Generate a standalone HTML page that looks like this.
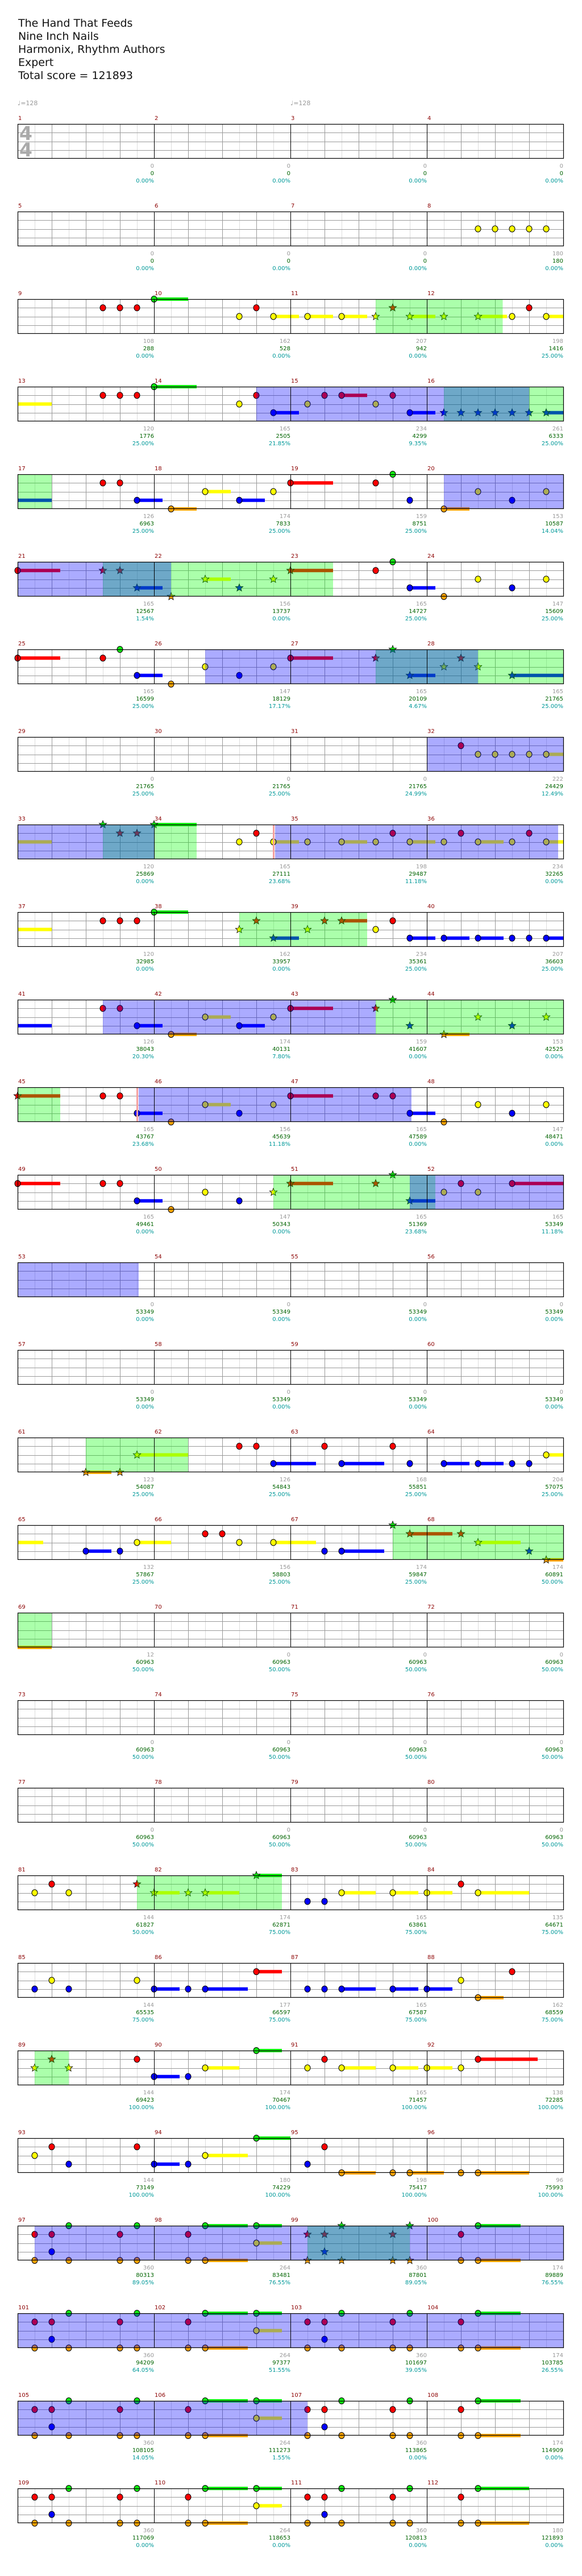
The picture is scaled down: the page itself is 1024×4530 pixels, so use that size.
<!DOCTYPE html>
<html><head><meta charset="utf-8">
<style>
html,body{margin:0;padding:0;background:#fff;width:1024px;height:4530px;overflow:hidden}
#hdr{position:absolute;left:32px;top:30px;font-family:"DejaVu Sans","Liberation Sans",sans-serif;font-size:19px;line-height:23px;color:#111}
svg{position:absolute;left:0;top:0}
</style></head><body>
<div id="hdr">The Hand That Feeds<br>Nine Inch Nails<br>Harmonix, Rhythm Authors<br>Expert<br>Total score = 121893</div>
<svg id="s" width="1024" height="4530" xmlns="http://www.w3.org/2000/svg" font-family="DejaVu Sans, Liberation Sans, sans-serif"></svg>
<script>
var P=function(E){return "r1 o1 r2 b2 g3 o3 r6 o6 g7 o7 r10 o10 g11-13.5 o11-13.5 g14-15.5 y14-15.5 r17 o17 r18 b18 g19 o19 r22 o22 g23 o23 r26 o26 g27-"+E+" o27-"+E;};
var P25="r1 o1 r2 b2 g3 o3 r6 o6 g7 o7 r10 o10 g11-13.5 o11-13.5 g14-15.5 y14-15.5 r17* o17* r18* b18* g19* o19* r22* o22* g23* o23* r26 o26 g27-29.5 o27-29.5";
var R=[
"",
"y27 y28 y29 y30 y31",
"r5 r6 r7 g8-10 y13 r14 y15-16.5 y17-18.5 y19-20.5 y21* r22* y23-24.5* y25* y27-28.7* y29 r30 y31-32 G21-28.45",
"_y0-2 r5 r6 r7 g8-10.5 y13 r14 b15-16.5 y17 r18 r19-20.5 y21 r22 b23-24.5 b25* b26* b27* b28* b29* b30* b31-32* B14-25 T25-30 G30-32",
"G0-2 _b0-2 r5 r6 b7-8.5 o9-10.5 y11-12.5 b13-14.5 y15 r16-18.5 r21 g22 b23 o25-26.5 y27 b29 y31 B25-32",
"B0-5 T5-9 G9-18.5 r0-2.5 r5* r6* b7-8.5* o9* y11-12.5* b13* y15* r16-18.5* r21 g22 b23-24.5 o25 y27 b29 y31",
"r0-2.5 r5 g6 b7-8.5 o9 B11-21 T21-27 G27-32 y11 b13 y15 r16-18.5 r21* g22* b23-24.5* y25* r26* y27* b29-32*",
"B24-32 r26 y27 y28 y29 y30 y31-32",
"B0-5 T5-8 G8-10.5 _y0-2 g5* r6* r7* g8-10.5* y13 r14 P15 B15.1-31.7 y15-16.5 y17 y19-20.5 y21 r22 y23-24.5 y25 r26 y27-28.5 y29 r30 y31-32",
"_y0-2 r5 r6 r7 g8-10 G13-20.5 y13* r14* b15-16.5* y17* r18* r19-20.5* y21 r22 b23-24.5 b25-26.5 b27-28.5 b29 b30 b31-32",
"_b0-2 B5-21 G21-32 r5 r6 b7-8.5 o9-10.5 y11-12.5 b13-14.5 y15 r16-18.5 r21* g22* b23* o25-26.5* y27* b29* y31*",
"G0-2.5 r0-2.5* r5 r6 P7 B7.1-23.1 b7-8.5 o9 y11-12.5 b13 y15 r16-18.5 r21 r22 b23-24.5 o25 y27 b29 y31",
"r0-2.5 r5 r6 b7-8.5 o9 y11 b13 G15-23 T23-24.5 B24.5-32 y15* r16-18.5* r21* g22* b23-24.5* y25 r26 y27 r29-32",
"B0-7.1",
"",
"G4-10 o4-5.5* o6* y7-10* r13 r14 b15-17.5 r18 b19-21.5 r22 b23 b25-26.5 b27-28.5 b29 b30 y31-32",
"_y0-1.5 b4-5.5 b6 y7-9 r11 r12 y13 y15-17.5 b18 b19-21.5 G22-32 g22* r23-25.5* r26* y27-29.5* b30* o31-32*",
"G0-2 _o0-2",
"","",
"y1 r2 y3 G7-15.5 r7* y8-9.5* y10* y11-13* g14-15.5* b17 b18 y19-21 y22-23.5 y24-25.5 r26 y27-30",
"b1 y2 b3 y7 b8-9.5 b10 b11-13.5 r14-15.5 b17 b18 b19-21 b22-23.5 b24-25.5 y26 o27-28.5 r29",
"G1-3 y1* r2* y3* r7 b8-9.5 b10 y11-13 g14-15.5 y17 r18 y19-21 y22-23.5 y24-25.5 y26 r27-30.5",
"y1 r2 b3 r7 b8-9.5 b10 y11-13.5 g14-16 b17 r18 o19-21 o22 o23-25 o26 o27-30",
"B1-17 T17-23 B23-32 "+P25,
"B0-32 "+P("29.5"),
"B0-17 "+P("29.5"),
P("30")
];
var S=["0 0 0.00%","0 0 0.00%","0 0 0.00%","0 0 0.00%",
"0 0 0.00%","0 0 0.00%","0 0 0.00%","180 180 0.00%",
"108 288 0.00%","162 528 0.00%","207 942 0.00%","198 1416 25.00%",
"120 1776 25.00%","165 2505 21.85%","234 4299 9.35%","261 6333 25.00%",
"126 6963 25.00%","174 7833 25.00%","159 8751 25.00%","153 10587 14.04%",
"165 12567 1.54%","156 13737 0.00%","165 14727 25.00%","147 15609 25.00%",
"165 16599 25.00%","147 18129 17.17%","165 20109 4.67%","165 21765 25.00%",
"0 21765 25.00%","0 21765 25.00%","0 21765 24.99%","222 24429 12.49%",
"120 25869 0.00%","165 27111 23.68%","198 29487 11.18%","234 32265 0.00%",
"120 32985 0.00%","162 33957 0.00%","234 35361 25.00%","207 36603 25.00%",
"126 38043 20.30%","174 40131 7.80%","159 41607 0.00%","153 42525 0.00%",
"165 43767 23.68%","156 45639 11.18%","165 47589 0.00%","147 48471 0.00%",
"165 49461 0.00%","147 50343 0.00%","165 51369 23.68%","165 53349 11.18%",
"0 53349 0.00%","0 53349 0.00%","0 53349 0.00%","0 53349 0.00%",
"0 53349 0.00%","0 53349 0.00%","0 53349 0.00%","0 53349 0.00%",
"123 54087 25.00%","126 54843 25.00%","168 55851 25.00%","204 57075 25.00%",
"132 57867 25.00%","156 58803 25.00%","174 59847 25.00%","174 60891 50.00%",
"12 60963 50.00%","0 60963 50.00%","0 60963 50.00%","0 60963 50.00%",
"0 60963 50.00%","0 60963 50.00%","0 60963 50.00%","0 60963 50.00%",
"0 60963 50.00%","0 60963 50.00%","0 60963 50.00%","0 60963 50.00%",
"144 61827 50.00%","174 62871 75.00%","165 63861 75.00%","135 64671 75.00%",
"144 65535 75.00%","177 66597 75.00%","165 67587 75.00%","162 68559 75.00%",
"144 69423 100.00%","174 70467 100.00%","165 71457 100.00%","138 72285 100.00%",
"144 73149 100.00%","180 74229 100.00%","198 75417 100.00%","96 75993 100.00%",
"360 80313 89.05%","264 83481 76.55%","360 87801 89.05%","174 89889 76.55%",
"360 94209 64.05%","264 97377 51.55%","360 101697 39.05%","174 103785 26.55%",
"360 108105 14.05%","264 111273 1.55%","360 113865 0.00%","174 114909 0.00%",
"360 117069 0.00%","264 118653 0.00%","360 120813 0.00%","180 121893 0.00%"];
var C={g:"#11ee11",r:"#ff0000",y:"#ffff00",b:"#0000ff",o:"#ffa500"};
var L={g:0,r:1,y:2,b:3,o:4};
var OV={B:"rgba(0,0,255,0.33)",G:"rgba(0,255,0,0.33)",T:"rgba(0,102,158,0.57)"};
var h=[];
function X(e){return 31+30*e;}
h.push('<text x="31" y="185" font-size="11" fill="#999">&#9833;=128</text>');
h.push('<text x="511" y="185" font-size="11" fill="#999">&#9833;=128</text>');
for(var r=0;r<28;r++){
 var T=218+154*r, Bm=T+61, lh=61/4;
 // grid
 for(var e=1;e<32;e++){ if(e%8==0)continue; var c=(e%2==1)?"#dddddd":"#9a9a9a";
  h.push('<line x1="'+(X(e)+.5)+'" y1="'+T+'" x2="'+(X(e)+.5)+'" y2="'+Bm+'" stroke="'+c+'" stroke-width="1"/>');}
 for(var k=1;k<4;k++){var yy=Math.round(T+k*lh)+.5;h.push('<line x1="31" y1="'+yy+'" x2="991" y2="'+yy+'" stroke="#9a9a9a" stroke-width="1"/>');}
 if(r==0){h.push('<text x="34" y="246" font-size="33" font-weight="bold" fill="#aaa">4</text><text x="34" y="275" font-size="33" font-weight="bold" fill="#aaa">4</text>');}
 var toks=R[r].split(/\s+/).filter(function(t){return t;});
 var bars=[],notes=[],ovs=[],pinks=[];
 toks.forEach(function(t){
  var ch=t[0];
  if(ch=="B"||ch=="G"||ch=="T"){var p=t.slice(1).split("-");ovs.push([ch,+p[0],+p[1]]);return;}
  if(ch=="P"){pinks.push(+t.slice(1));return;}
  var only=false; if(ch=="_"){only=true;t=t.slice(1);ch=t[0];}
  var star=t.indexOf("*")>=0; t=t.replace("*","");
  var p=t.slice(1).split("-"); var s=+p[0], en=p.length>1?+p[1]:null;
  var y=T+L[ch]*lh;
  if(en!==null)bars.push('<rect x="'+X(s)+'" y="'+(y-3)+'" width="'+(X(en)-X(s))+'" height="6" fill="'+C[ch]+'"/>');
  if(!only){
   if(star){var pts=[];for(var i=0;i<10;i++){var a=-Math.PI/2+i*Math.PI/5,rr=(i%2?3:7);pts.push((X(s)+rr*Math.cos(a)).toFixed(1)+","+(y+rr*Math.sin(a)).toFixed(1));}
    notes.push('<polygon points="'+pts.join(" ")+'" fill="'+C[ch]+'" stroke="#000" stroke-width="0.8"/>');}
   else notes.push('<ellipse cx="'+X(s)+'" cy="'+y+'" rx="5" ry="5.5" fill="'+C[ch]+'" stroke="#000" stroke-width="1"/>');
  }
 });
 h.push(bars.join(""));h.push(notes.join(""));
 ovs.forEach(function(o){h.push('<rect x="'+X(o[1])+'" y="'+T+'" width="'+(X(o[2])-X(o[1]))+'" height="61" fill="'+OV[o[0]]+'"/>');});
 pinks.forEach(function(e){h.push('<rect x="'+(X(e)-1)+'" y="'+T+'" width="3" height="61" fill="#f4a0a0"/>');});
 for(var m=1;m<4;m++)h.push('<line x1="'+(X(8*m)+.5)+'" y1="'+T+'" x2="'+(X(8*m)+.5)+'" y2="'+Bm+'" stroke="#000" stroke-width="1"/>');
 h.push('<rect x="31.5" y="'+(T+.5)+'" width="960" height="60" fill="none" stroke="#000" stroke-width="1.2"/>');
 for(var m=0;m<4;m++){
  var mn=r*4+m+1, xs=X(8*m), xe=X(8*m+8);
  h.push('<text x="'+(xs+1)+'" y="'+(T-7)+'" font-size="10" fill="#8b0000">'+mn+'</text>');
  var st=S[mn-1].split(" ");
  h.push('<text x="'+xe+'" y="'+(Bm+16)+'" font-size="10" fill="#9a9a9a" text-anchor="end">'+st[0]+'</text>');
  h.push('<text x="'+xe+'" y="'+(Bm+29)+'" font-size="10" fill="#006400" text-anchor="end">'+st[1]+'</text>');
  h.push('<text x="'+xe+'" y="'+(Bm+42)+'" font-size="10" fill="#009999" text-anchor="end">'+st[2]+'</text>');
 }
}
document.getElementById("s").innerHTML=h.join("");
</script>
</body></html>
